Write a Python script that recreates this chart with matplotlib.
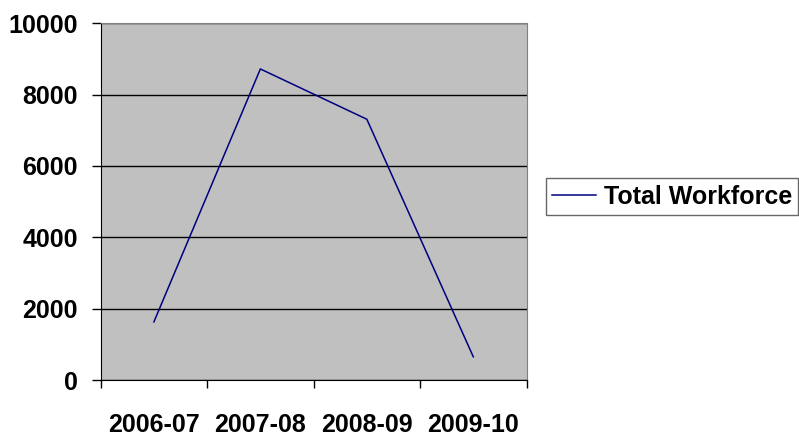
import matplotlib.pyplot as plt

plt.rcParams['font.family'] = ['Liberation Sans', 'DejaVu Sans']
plt.rcParams['font.weight'] = 'bold'

years = ['2006-07', '2007-08', '2008-09', '2009-10']
workforce = [1630, 8720, 7310, 650]

fig = plt.figure(figsize=(7.99, 4.38), dpi=100)
ax = fig.add_axes([0.126, 0.1324, 0.533, 0.8144])
ax.set_facecolor('#C0C0C0')

x = list(range(len(years)))
line, = ax.plot(x, workforce, color='#000080', linewidth=1.1, label='Total Workforce')

ax.set_xlim(-0.5, len(years) - 0.5)
ax.set_ylim(0, 10000)
ax.set_yticks(range(0, 10001, 2000))
ax.yaxis.grid(True, color='black', linewidth=1)
ax.set_axisbelow(True)

# category boundaries get the tick marks, labels sit in between
ax.set_xticks([i - 0.5 for i in range(len(years) + 1)])
ax.set_xticklabels([])
ax.set_xticks(x, minor=True)
ax.set_xticklabels(years, minor=True, fontsize=18, fontweight='bold')
ax.tick_params(axis='x', which='minor', length=0, pad=24)
ax.tick_params(axis='x', which='major', length=6, width=1, color='black')
ax.tick_params(axis='y', length=6.5, width=1, pad=10, labelsize=18)

for s in ['left', 'bottom']:
    ax.spines[s].set_color('black')
for s in ['top', 'right']:
    ax.spines[s].set_color('#808080')

leg = fig.legend(handles=[line], loc='center left',
                 bbox_to_anchor=(546 / 799, 1 - 196.5 / 438),
                 fontsize=18, frameon=True, fancybox=False,
                 handlelength=1.75, handletextpad=0.3, borderpad=0.25,
                 borderaxespad=0)
leg.get_frame().set_edgecolor('#404040')
leg.get_frame().set_linewidth(1)

fig.savefig('out.png', dpi=100)
